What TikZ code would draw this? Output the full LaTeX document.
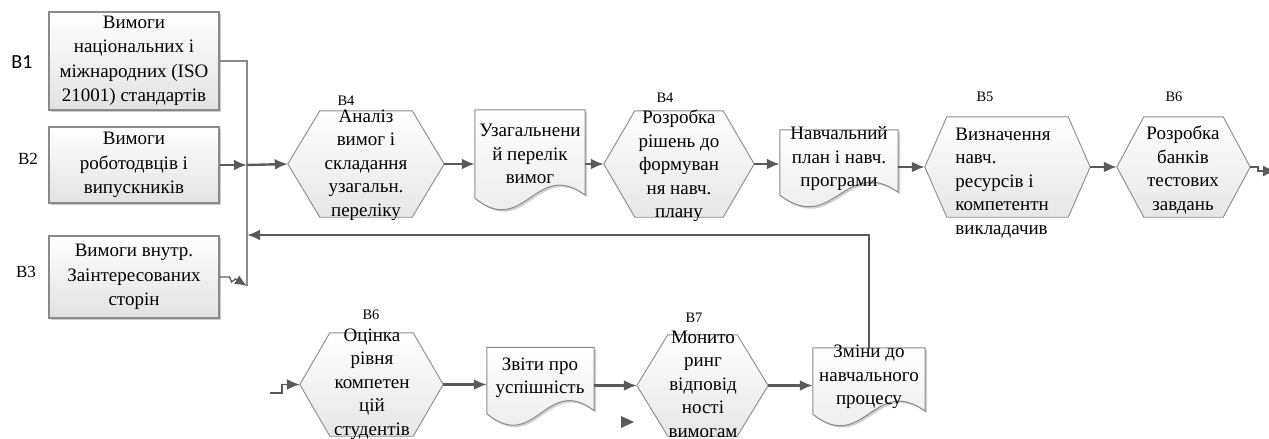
\documentclass[tikz,border=0pt]{standalone}
\usepackage{fontspec}
\setmainfont{Liberation Serif}
\newfontfamily\tagsans{Carlito}
\usetikzlibrary{arrows.meta,shadows,calc}
\definecolor{linegray}{HTML}{8A8A8A}
\definecolor{arrowgray}{HTML}{5A5A5A}
\definecolor{fillgray}{HTML}{E2E2E2}
\newcommand{\docline}[1]
{
  \path[doc]
    (#1.north west) -- (#1.north east) -- ($(#1.south east)+(0,-3)$)
    .. controls ($(#1.south east)!0.45!(#1.south west)+(0,-40)$)
    and ($(#1.south west)!0.45!(#1.south east)+(0,40)$) .. (#1.south west) -- cycle;
}
\newcommand{\hexline}[2]
{
  \path[hexa]
    (#1.west) -- ($(#1.north west)+(#2,0)$) -- ($(#1.north east)+(-#2,0)$)
    -- (#1.east) -- ($(#1.south east)+(-#2,0)$) -- ($(#1.south west)+(#2,0)$) -- cycle;
}

\begin{document}
\begin{tikzpicture}
    [
      x=1pt, y=-1pt,
      box/.style=
      {
        draw=linegray,
        line width=1.1pt,
        top color=white,
        bottom color=fillgray,
        minimum width=170pt,
        inner sep=0pt,
        align=center,
        font=\fontsize{19}{24.5}\selectfont,
        drop shadow={shadow xshift=2pt, shadow yshift=-2pt, opacity=0.35, fill=black!60}
      },
      hexa/.style=
      {
        draw=linegray,
        line width=0.9pt,
        top color=white,
        bottom color=fillgray!85
      },
      doc/.style=
      {
        draw=linegray,
        line width=1pt,
        top color=white,
        bottom color=fillgray!80,
        drop shadow={shadow xshift=2pt, shadow yshift=-2pt, opacity=0.3, fill=black!60}
      },
      frame/.style={inner sep=0pt},
      txt/.style=
      {
        align=center,
        inner sep=0pt,
        font=\fontsize{19}{23.5}\selectfont
      },
      tag/.style={inner sep=0pt, font=\fontsize{14.5}{15}\selectfont},
      sidetag/.style={inner sep=0pt, font=\fontsize{17}{17}\selectfont},
      flow/.style={draw=arrowgray, line width=2.4pt, -{Latex[length=13pt,width=11pt]}},
      bus/.style={draw=linegray, line width=1.3pt}
    ]
    \useasboundingbox (0,0) rectangle (1269,439);

    % inputs
    \node[box, minimum height=98pt](natsional) at (134,61)
      {Вимоги\\національних і\\міжнародних (ISO\\21001) стандартів};
    \node[box, minimum height=76pt](robotod) at (134,165)
      {Вимоги\\роботодвців і\\випускників};
    \node[box, minimum height=82pt](vnutr) at (134,277)
      {Вимоги внутр.\\Заінтересованих\\сторін};
    \node[sidetag, font=\tagsans\fontsize{20}{20}\selectfont](tagB1) at (22,62) {B1};
    \node[sidetag](tagB2) at (28,159) {B2};
    \node[sidetag](tagB3) at (26,272) {B3};

    % upper row
    \node[frame, minimum width=156pt, minimum height=106pt](analiz) at (366,164) {};
    \hexline{analiz}{32}
    \node[txt](analiz-t) at (366,165) {Аналіз\\вимог і\\складання\\узагальн.\\переліку};
    \node[tag](tagB4a) at (346,101) {B4};

    \node[frame, minimum width=110pt, minimum height=88pt](uzag) at (530,154) {};
    \docline{uzag}
    \node[txt](uzag-t) at (530,154) {Узагальнени\\й перелік\\вимог};

    \node[frame, minimum width=150pt, minimum height=106pt](rishen) at (679,164) {};
    \hexline{rishen}{31}
    \node[txt](rishen-t) at (679,166) {Розробка\\рішень до\\формуван\\ня навч.\\плану};
    \node[tag](tagB4b) at (665,98) {B4};

    \node[frame, minimum width=118pt, minimum height=65pt](plan) at (839,162.5) {};
    \docline{plan}
    \node[txt](plan-t) at (839,159) {Навчальний\\план і навч.\\програми};

    \node[frame, minimum width=165pt, minimum height=100pt](resurs) at (1007.5,167) {};
    \hexline{resurs}{22}
    \node[txt, align=left](resurs-t) at (1003,183) {Визначення\\навч.\\ресурсів і\\компетентн\\викладачив};
    \node[tag](tagB5) at (985,97) {B5};

    \node[frame, minimum width=133pt, minimum height=100pt](banky) at (1183.5,167) {};
    \hexline{banky}{27}
    \node[txt](banky-t) at (1183,170) {Розробка\\банків\\тестових\\завдань};
    \node[tag](tagB6a) at (1174,97) {B6};

    % lower row
    \node[frame, minimum width=143pt, minimum height=103pt](otsinka) at (371.5,384.5) {};
    \hexline{otsinka}{30}
    \node[txt](otsinka-t) at (372,384) {Оцінка\\рівня\\компетен\\цій\\студентів};
    \node[tag](tagB6b) at (371,315) {B6};

    \node[frame, minimum width=107pt, minimum height=66pt](zvity) at (540.5,380.5) {};
    \docline{zvity}
    \node[txt](zvity-t) at (540,378) {Звіти про\\успішність};

    \node[frame, minimum width=131pt, minimum height=101pt](monitor) at (702.5,385.5) {};
    \hexline{monitor}{31}
    \node[txt](monitor-t) at (703,384) {Монито\\ринг\\відповід\\ності\\вимогам};
    \node[tag](tagB7) at (694,318) {B7};

    \node[frame, minimum width=112pt, minimum height=66pt](zminy) at (869,381) {};
    \docline{zminy}
    \node[txt](zminy-t) at (869,377) {Зміни до\\навчального\\процесу};

    % connectors
    \coordinate (join) at (247,165);
    \coordinate (busend) at (247,286);
    \coordinate (backtip) at (247,235);
    \coordinate (endtip) at (1276,171);
    \coordinate (instart) at (270,393);
    \fill[arrowgray] (621,416) -- (634,422) -- (621,428) -- cycle;

    \draw[bus] (natsional.east) -| (busend);
    \draw[flow] (robotod.east) -- (join);
    \draw[flow] (join) -- (analiz.west);
    \draw[bus, -{Latex[length=12pt,width=10pt]}, draw=arrowgray] (vnutr.east) -- ++(10,0) -- ++(2,5) -- ++(4,-3) -- (busend);
    \draw[flow] (analiz.east) -- (analiz.east -| uzag.west);
    \draw[flow] (uzag.east |- rishen.west) -- (rishen.west);
    \draw[flow] (rishen.east) -- (rishen.east -| plan.west);
    \draw[flow] (plan.east |- resurs.west) -- (resurs.west);
    \draw[flow] (resurs.east) -- (banky.west);
    \draw[flow, line width=1.8pt] (banky.east) -- ++(8,0) |- (endtip);
    \draw[flow, line width=1.6pt] (instart) -- ++(12,0) |- (otsinka.west);
    \draw[flow] (otsinka.east) -- (otsinka.east -| zvity.west);
    \draw[flow] (zvity.east |- monitor.west) -- (monitor.west);
    \draw[flow] (monitor.east) -- (monitor.east -| zminy.west);
    \draw[flow] (zminy.north) |- (backtip);
  \end{tikzpicture}
\end{document}
